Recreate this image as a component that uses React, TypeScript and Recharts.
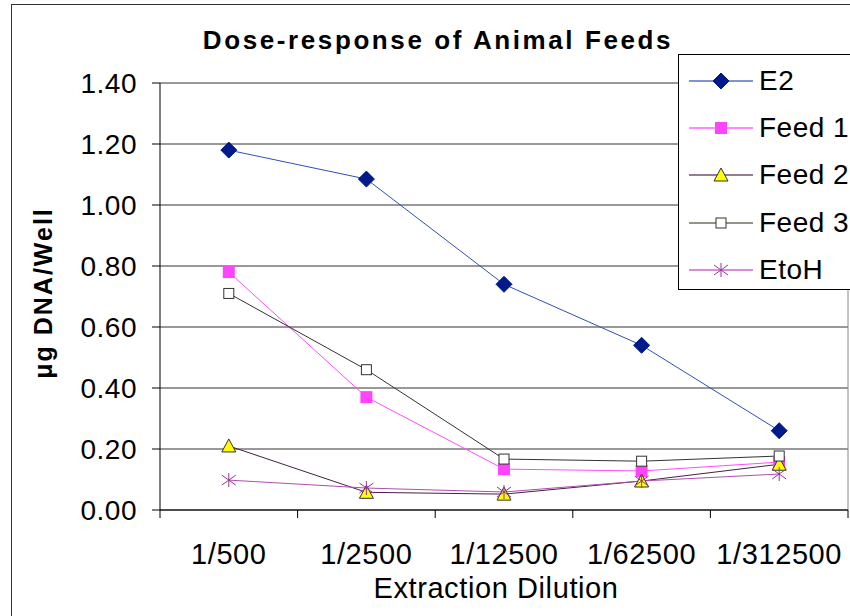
import React from 'react'
import { CartesianGrid, Legend, Line, LineChart, ReferenceLine, XAxis, YAxis } from 'recharts'

const categories = ['1/500', '1/2500', '1/12500', '1/62500', '1/312500']
const e2 = [1.18, 1.085, 0.74, 0.54, 0.26]
const feed1 = [0.78, 0.37, 0.134, 0.128, 0.157]
const feed2 = [0.21, 0.058, 0.052, 0.095, 0.15]
const feed3 = [0.71, 0.46, 0.167, 0.16, 0.177]
const etoh = [0.098, 0.072, 0.059, 0.095, 0.118]
const yTicks = [0, 0.2, 0.4, 0.6, 0.8, 1.0, 1.2, 1.4]

const FONT = '"Liberation Sans", Arial, sans-serif'

const data = categories.map((name, i) => ({
  x: i + 0.5,
  name,
  e2: e2[i],
  feed1: feed1[i],
  feed2: feed2[i],
  feed3: feed3[i],
  etoh: etoh[i],
}))

type Shape = 'diamond' | 'square' | 'triangle' | 'open' | 'star'

const marker = (shape: Shape, cx: number, cy: number, key?: any) => {
  switch (shape) {
    case 'diamond':
      return (
        <polygon key={key} points={`${cx},${cy - 8} ${cx + 8},${cy} ${cx},${cy + 8} ${cx - 8},${cy}`} fill="#001a8c" stroke="#001a8c" />
      )
    case 'square':
      return <rect key={key} x={cx - 6} y={cy - 6} width={12} height={12} fill="#ff44ff" />
    case 'triangle':
      return (
        <polygon key={key} points={`${cx},${cy - 7} ${cx + 7},${cy + 6} ${cx - 7},${cy + 6}`} fill="#ffff00" stroke="#333" strokeWidth={1} />
      )
    case 'open':
      return <rect key={key} x={cx - 5} y={cy - 5} width={10} height={10} fill="#fff" stroke="#333" strokeWidth={1} />
    case 'star':
      return (
        <g key={key} stroke="#993399" strokeWidth={1}>
          <line x1={cx} y1={cy - 7} x2={cx} y2={cy + 7} />
          <line x1={cx - 7} y1={cy - 5} x2={cx + 7} y2={cy + 5} />
          <line x1={cx - 7} y1={cy + 5} x2={cx + 7} y2={cy - 5} />
        </g>
      )
  }
}

const series: { key: string; name: string; color: string; legendColor: string; shape: Shape }[] = [
  { key: 'e2', name: 'E2', color: '#3050b8', legendColor: '#5570c0', shape: 'diamond' },
  { key: 'feed1', name: 'Feed 1', color: '#ff4dff', legendColor: '#ff66ff', shape: 'square' },
  { key: 'feed2', name: 'Feed 2', color: '#442244', legendColor: '#705070', shape: 'triangle' },
  { key: 'feed3', name: 'Feed 3', color: '#333333', legendColor: '#707060', shape: 'open' },
  { key: 'etoh', name: 'EtoH', color: '#b04db0', legendColor: '#cc66cc', shape: 'star' },
]

const renderLegend = () => (
  <div
    style={{
      border: '1px solid #000',
      background: '#fff',
      width: 200,
      height: 236,
      boxSizing: 'border-box',
      paddingTop: 2,
      fontFamily: FONT,
      fontSize: 28,
    }}
  >
    {series.map((s) => (
      <div key={s.key} style={{ display: 'flex', alignItems: 'center', height: 47.3 }}>
        <svg width={80} height={20} style={{ marginLeft: 8 }}>
          <line x1={2} y1={10} x2={66} y2={10} stroke={s.legendColor} strokeWidth={1.5} />
          {marker(s.shape, 34, 10)}
        </svg>
        <span style={{ marginLeft: -8, letterSpacing: 0.5 }}>{s.name}</span>
      </div>
    ))}
  </div>
)

export default function App() {
  return (
    <div
      style={{
        position: 'fixed',
        left: 0,
        top: 0,
        width: 850,
        height: 616,
        overflow: 'hidden',
        background: '#fff',
        fontFamily: FONT,
      }}
    >
      <div
        style={{
          position: 'absolute',
          left: 11,
          top: 4,
          width: 900,
          height: 700,
          borderLeft: '1px solid #333',
          borderTop: '1px solid #333',
        }}
      />
      <div
        style={{
          position: 'absolute',
          left: 438,
          top: 25,
          transform: 'translateX(-50%)',
          whiteSpace: 'nowrap',
          fontWeight: 'bold',
          fontSize: 26,
          letterSpacing: 2.6,
        }}
      >
        Dose-response of Animal Feeds
      </div>
      <div
        style={{
          position: 'absolute',
          left: 43,
          top: 293,
          transform: 'translate(-50%, -50%) rotate(-90deg)',
          whiteSpace: 'nowrap',
          fontWeight: 'bold',
          fontSize: 25,
          letterSpacing: 2,
        }}
      >
        μg DNA/Well
      </div>
      <div
        style={{
          position: 'absolute',
          left: 496,
          top: 572,
          transform: 'translateX(-50%)',
          whiteSpace: 'nowrap',
          fontSize: 29,
          letterSpacing: 0.6,
        }}
      >
        Extraction Dilution
      </div>
      <div style={{ position: 'absolute', left: 0, top: 0 }}>
        <LineChart width={850} height={616} data={data} margin={{ top: 83, right: 2, bottom: 28, left: 11 }}>
          <CartesianGrid xAxisId="grid" vertical={false} stroke="#333" horizontalValues={yTicks} />
          <XAxis
            xAxisId="grid"
            type="number"
            dataKey="x"
            domain={[0, 5]}
            ticks={categories.map((_, i) => i).concat(categories.length)}
            tickFormatter={() => ''}
            tickSize={8}
            height={8}
            stroke="#000"
            tick={{ fontSize: 1 }}
          />
          <XAxis
            xAxisId="lab"
            type="number"
            dataKey="x"
            domain={[0, 5]}
            ticks={categories.map((_, i) => i + 0.5)}
            tickFormatter={(v: number) => categories[Math.floor(v)]}
            axisLine={false}
            tickLine={false}
            tickSize={0}
            tickMargin={25}
            height={70}
            interval={0}
            tick={{ fill: '#000', fontSize: 29, fontFamily: FONT, letterSpacing: 0.6 }}
          />
          <YAxis
            domain={[0, 1.4]}
            ticks={yTicks}
            tickFormatter={(v: number) => v.toFixed(2)}
            width={149}
            tickSize={8}
            tickMargin={15}
            stroke="#000"
            interval={0}
            tick={{ fill: '#000', fontSize: 28, fontFamily: FONT, letterSpacing: 0.5 }}
          />
          <ReferenceLine xAxisId="grid" x={5} stroke="#888" />
          {series.map((s) => (
            <Line
              key={s.key}
              xAxisId="grid"
              dataKey={s.key}
              name={s.name}
              stroke={s.color}
              strokeWidth={1}
              isAnimationActive={false}
              dot={(p: any) => marker(s.shape, p.cx, p.cy, `${s.key}-${p.index}`)}
              activeDot={false}
            />
          ))}
          <Legend
            layout="vertical"
            align="center"
            verticalAlign="middle"
            content={renderLegend}
            wrapperStyle={{ left: 678, top: 54, width: 200 }}
          />
        </LineChart>
      </div>
    </div>
  )
}
